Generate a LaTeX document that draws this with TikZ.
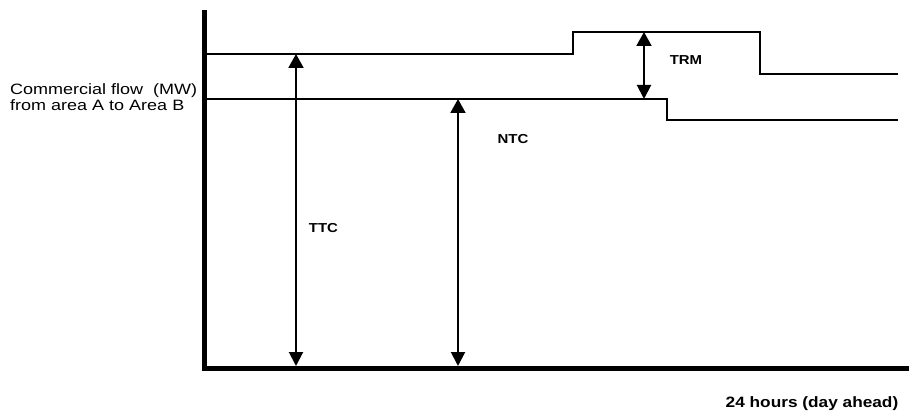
\documentclass[tikz,border=0pt]{standalone}
\usepackage{fontspec}
\setmainfont{Liberation Sans}
\usetikzlibrary{arrows.meta}

\begin{document}
\begin{tikzpicture}[x=1pt,y=-1pt,line width=2pt,
  axis/.style={line width=5pt},
  span/.style={{Triangle[width=15pt,length=14pt]}-{Triangle[width=14pt,length=14pt]}},
  txt/.style={font=\fontsize{15}{16.5}\selectfont,xscale=1.2,transform shape,inner sep=0pt},
  lbl/.style={font=\fontsize{#1}{#1}\selectfont\bfseries,xscale=1.15,transform shape,inner sep=0pt},
  lbl/.default=13]
\useasboundingbox (0,0) rectangle (911,414);
% axes
\coordinate (top) at (204,10);
\coordinate (O) at (204,368);
\coordinate (end) at (909,368);
\draw[axis] (top) -- (O) -- (end);
% TTC and NTC profiles
\coordinate (ttc0) at (206,54);
\coordinate (ntc0) at (206,99);
\draw (ttc0) -- (573,54) |- (760,32) |- (898,74);
\draw (ntc0) -- (667,99) |- (898,120);
% spans
\coordinate (ttcT) at (296,54);
\coordinate (ttcB) at (296,366);
\coordinate (ntcT) at (458,99);
\coordinate (ntcB) at (458,366);
\coordinate (trmT) at (644,32);
\coordinate (trmB) at (644,99);
\draw[span] (ttcT) -- (ttcB);
\draw[span] (ntcT) -- (ntcB);
\draw[span] (trmT) -- (trmB);
% labels
\node[lbl] (ttc) at (323.5,228) {TTC};
\node[lbl] (ntc) at (513,139) {NTC};
\node[lbl] (trm) at (686,60) {TRM};
\node[txt,anchor=west,align=left] (yl) at (9,97) {Commercial flow~~(MW)\\from area A to Area B};
\node[lbl=15] (xl) at (812,404) {24 hours (day ahead)};
\end{tikzpicture}
\end{document}
